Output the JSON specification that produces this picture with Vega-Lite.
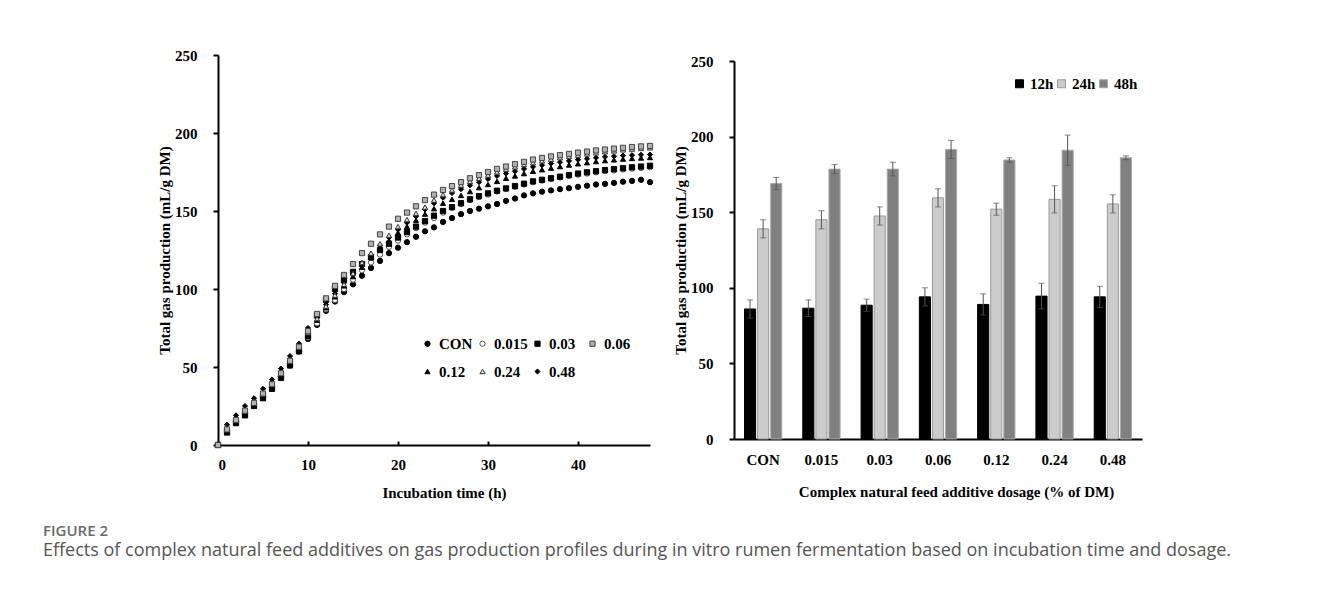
{
"$schema": "https://vega.github.io/schema/vega-lite/v6.json",
"padding": {"left": 43, "top": 48, "right": 0, "bottom": 0},
"spacing": 18,
"resolve": {"scale": {"fill": "independent", "stroke": "independent", "shape": "independent", "size": "independent"}, "legend": {"fill": "independent", "stroke": "independent", "shape": "independent", "size": "independent"}},
"config": {
 "font": "Liberation Serif",
 "view": {"stroke": null},
 "axis": {"labelFont": "Liberation Serif", "labelFontWeight": "bold", "labelFontSize": 15, "labelColor": "#000", "titleFont": "Liberation Serif", "titleFontWeight": "bold", "titleFontSize": 15, "titleColor": "#000", "domainColor": "#000", "domainWidth": 2, "tickColor": "#000", "tickWidth": 2, "grid": false},
 "legend": {"labelFont": "Liberation Serif", "labelFontWeight": "bold", "labelFontSize": 15, "labelColor": "#000", "padding": 0}
},
"title": {"text": "FIGURE 2", "subtitle": "Effects of complex natural feed additives on gas production profiles during in vitro rumen fermentation based on incubation time and dosage.", "orient": "bottom", "anchor": "start", "frame": "bounds", "font": "Open Sans", "fontSize": 15, "fontWeight": 600, "color": "#6b6b6b", "subtitleFont": "Open Sans", "subtitleFontSize": 18, "subtitleColor": "#555555", "subtitlePadding": 3, "offset": 24},
"hconcat": [
{
 "width": 96, "height": 10,
 "data": {"values": []},
 "mark": "point"
},
{
 "width": 432, "height": 390,
 "data": {"values": [
{"h":0,"s":"CON","v":0},{"h":1,"s":"CON","v":9},{"h":2,"s":"CON","v":15},{"h":3,"s":"CON","v":20},{"h":4,"s":"CON","v":25},{"h":5,"s":"CON","v":31},{"h":6,"s":"CON","v":37},{"h":7,"s":"CON","v":44},{"h":8,"s":"CON","v":51},{"h":9,"s":"CON","v":60},{"h":10,"s":"CON","v":68},{"h":11,"s":"CON","v":77},{"h":12,"s":"CON","v":86},{"h":13,"s":"CON","v":92},{"h":14,"s":"CON","v":98},{"h":15,"s":"CON","v":103},{"h":16,"s":"CON","v":108.5},{"h":17,"s":"CON","v":113.5},{"h":18,"s":"CON","v":118},{"h":19,"s":"CON","v":123},{"h":20,"s":"CON","v":126.5},{"h":21,"s":"CON","v":130},{"h":22,"s":"CON","v":133.5},{"h":23,"s":"CON","v":137},{"h":24,"s":"CON","v":139.5},{"h":25,"s":"CON","v":143},{"h":26,"s":"CON","v":145.5},{"h":27,"s":"CON","v":148},{"h":28,"s":"CON","v":150},{"h":29,"s":"CON","v":151.5},{"h":30,"s":"CON","v":153},{"h":31,"s":"CON","v":154.5},{"h":32,"s":"CON","v":156.5},{"h":33,"s":"CON","v":158},{"h":34,"s":"CON","v":160},{"h":35,"s":"CON","v":161.3},{"h":36,"s":"CON","v":162.4},{"h":37,"s":"CON","v":163.2},{"h":38,"s":"CON","v":164},{"h":39,"s":"CON","v":164.6},{"h":40,"s":"CON","v":165.5},{"h":41,"s":"CON","v":166.2},{"h":42,"s":"CON","v":167},{"h":43,"s":"CON","v":167.4},{"h":44,"s":"CON","v":168},{"h":45,"s":"CON","v":168.8},{"h":46,"s":"CON","v":169.3},{"h":47,"s":"CON","v":170},{"h":48,"s":"CON","v":168.5},
{"h":0,"s":"0.015","v":0},{"h":1,"s":"0.015","v":9},{"h":2,"s":"0.015","v":15},{"h":3,"s":"0.015","v":20},{"h":4,"s":"0.015","v":25},{"h":5,"s":"0.015","v":31},{"h":6,"s":"0.015","v":37},{"h":7,"s":"0.015","v":44},{"h":8,"s":"0.015","v":52},{"h":9,"s":"0.015","v":60},{"h":10,"s":"0.015","v":69},{"h":11,"s":"0.015","v":78},{"h":12,"s":"0.015","v":87},{"h":13,"s":"0.015","v":93},{"h":14,"s":"0.015","v":100},{"h":15,"s":"0.015","v":106},{"h":16,"s":"0.015","v":112},{"h":17,"s":"0.015","v":117},{"h":18,"s":"0.015","v":122},{"h":19,"s":"0.015","v":127},{"h":20,"s":"0.015","v":131},{"h":21,"s":"0.015","v":135},{"h":22,"s":"0.015","v":139},{"h":23,"s":"0.015","v":142.5},{"h":24,"s":"0.015","v":145.5},{"h":25,"s":"0.015","v":149},{"h":26,"s":"0.015","v":152},{"h":27,"s":"0.015","v":154.5},{"h":28,"s":"0.015","v":157},{"h":29,"s":"0.015","v":159},{"h":30,"s":"0.015","v":160.5},{"h":31,"s":"0.015","v":162.5},{"h":32,"s":"0.015","v":164},{"h":33,"s":"0.015","v":165.5},{"h":34,"s":"0.015","v":167},{"h":35,"s":"0.015","v":168.5},{"h":36,"s":"0.015","v":169.5},{"h":37,"s":"0.015","v":170.5},{"h":38,"s":"0.015","v":171.5},{"h":39,"s":"0.015","v":172.5},{"h":40,"s":"0.015","v":173.3},{"h":41,"s":"0.015","v":174},{"h":42,"s":"0.015","v":174.8},{"h":43,"s":"0.015","v":175.5},{"h":44,"s":"0.015","v":176},{"h":45,"s":"0.015","v":176.6},{"h":46,"s":"0.015","v":177.1},{"h":47,"s":"0.015","v":177.6},{"h":48,"s":"0.015","v":178},
{"h":0,"s":"0.03","v":0},{"h":1,"s":"0.03","v":8},{"h":2,"s":"0.03","v":14},{"h":3,"s":"0.03","v":19},{"h":4,"s":"0.03","v":25},{"h":5,"s":"0.03","v":30},{"h":6,"s":"0.03","v":36},{"h":7,"s":"0.03","v":43},{"h":8,"s":"0.03","v":51},{"h":9,"s":"0.03","v":60},{"h":10,"s":"0.03","v":70},{"h":11,"s":"0.03","v":83},{"h":12,"s":"0.03","v":93},{"h":13,"s":"0.03","v":100},{"h":14,"s":"0.03","v":106},{"h":15,"s":"0.03","v":111},{"h":16,"s":"0.03","v":116},{"h":17,"s":"0.03","v":120.5},{"h":18,"s":"0.03","v":125},{"h":19,"s":"0.03","v":129},{"h":20,"s":"0.03","v":133},{"h":21,"s":"0.03","v":136.5},{"h":22,"s":"0.03","v":140},{"h":23,"s":"0.03","v":143.5},{"h":24,"s":"0.03","v":147},{"h":25,"s":"0.03","v":150},{"h":26,"s":"0.03","v":152.5},{"h":27,"s":"0.03","v":155},{"h":28,"s":"0.03","v":157.5},{"h":29,"s":"0.03","v":159.5},{"h":30,"s":"0.03","v":161.3},{"h":31,"s":"0.03","v":163},{"h":32,"s":"0.03","v":164.5},{"h":33,"s":"0.03","v":166},{"h":34,"s":"0.03","v":167.5},{"h":35,"s":"0.03","v":169},{"h":36,"s":"0.03","v":170},{"h":37,"s":"0.03","v":171},{"h":38,"s":"0.03","v":172},{"h":39,"s":"0.03","v":173},{"h":40,"s":"0.03","v":174},{"h":41,"s":"0.03","v":174.8},{"h":42,"s":"0.03","v":175.5},{"h":43,"s":"0.03","v":176.2},{"h":44,"s":"0.03","v":176.8},{"h":45,"s":"0.03","v":177.4},{"h":46,"s":"0.03","v":178},{"h":47,"s":"0.03","v":178.5},{"h":48,"s":"0.03","v":179},
{"h":0,"s":"0.12","v":0},{"h":1,"s":"0.12","v":11},{"h":2,"s":"0.12","v":17},{"h":3,"s":"0.12","v":23},{"h":4,"s":"0.12","v":28},{"h":5,"s":"0.12","v":34},{"h":6,"s":"0.12","v":40},{"h":7,"s":"0.12","v":47},{"h":8,"s":"0.12","v":55},{"h":9,"s":"0.12","v":64},{"h":10,"s":"0.12","v":72},{"h":11,"s":"0.12","v":80},{"h":12,"s":"0.12","v":88},{"h":13,"s":"0.12","v":95},{"h":14,"s":"0.12","v":102},{"h":15,"s":"0.12","v":108},{"h":16,"s":"0.12","v":114},{"h":17,"s":"0.12","v":120},{"h":18,"s":"0.12","v":126},{"h":19,"s":"0.12","v":131},{"h":20,"s":"0.12","v":136},{"h":21,"s":"0.12","v":140},{"h":22,"s":"0.12","v":144},{"h":23,"s":"0.12","v":148},{"h":24,"s":"0.12","v":151.5},{"h":25,"s":"0.12","v":155},{"h":26,"s":"0.12","v":157.5},{"h":27,"s":"0.12","v":160},{"h":28,"s":"0.12","v":162.5},{"h":29,"s":"0.12","v":165},{"h":30,"s":"0.12","v":167},{"h":31,"s":"0.12","v":169},{"h":32,"s":"0.12","v":171},{"h":33,"s":"0.12","v":172.5},{"h":34,"s":"0.12","v":174},{"h":35,"s":"0.12","v":175.5},{"h":36,"s":"0.12","v":176.5},{"h":37,"s":"0.12","v":177.5},{"h":38,"s":"0.12","v":178.5},{"h":39,"s":"0.12","v":179.5},{"h":40,"s":"0.12","v":180.3},{"h":41,"s":"0.12","v":181},{"h":42,"s":"0.12","v":181.7},{"h":43,"s":"0.12","v":182.3},{"h":44,"s":"0.12","v":182.8},{"h":45,"s":"0.12","v":183.3},{"h":46,"s":"0.12","v":183.7},{"h":47,"s":"0.12","v":184},{"h":48,"s":"0.12","v":184.3},
{"h":0,"s":"0.48","v":0},{"h":1,"s":"0.48","v":13},{"h":2,"s":"0.48","v":19},{"h":3,"s":"0.48","v":25},{"h":4,"s":"0.48","v":30},{"h":5,"s":"0.48","v":36},{"h":6,"s":"0.48","v":42},{"h":7,"s":"0.48","v":49},{"h":8,"s":"0.48","v":57},{"h":9,"s":"0.48","v":65},{"h":10,"s":"0.48","v":75},{"h":11,"s":"0.48","v":83},{"h":12,"s":"0.48","v":90},{"h":13,"s":"0.48","v":97},{"h":14,"s":"0.48","v":104},{"h":15,"s":"0.48","v":110},{"h":16,"s":"0.48","v":116.5},{"h":17,"s":"0.48","v":122},{"h":18,"s":"0.48","v":128},{"h":19,"s":"0.48","v":133},{"h":20,"s":"0.48","v":138},{"h":21,"s":"0.48","v":142.5},{"h":22,"s":"0.48","v":146.5},{"h":23,"s":"0.48","v":151},{"h":24,"s":"0.48","v":155},{"h":25,"s":"0.48","v":158.5},{"h":26,"s":"0.48","v":161.5},{"h":27,"s":"0.48","v":164},{"h":28,"s":"0.48","v":166.5},{"h":29,"s":"0.48","v":168.5},{"h":30,"s":"0.48","v":170.5},{"h":31,"s":"0.48","v":172.5},{"h":32,"s":"0.48","v":174},{"h":33,"s":"0.48","v":175.5},{"h":34,"s":"0.48","v":177},{"h":35,"s":"0.48","v":178.3},{"h":36,"s":"0.48","v":179.4},{"h":37,"s":"0.48","v":180.4},{"h":38,"s":"0.48","v":181.3},{"h":39,"s":"0.48","v":182.1},{"h":40,"s":"0.48","v":182.9},{"h":41,"s":"0.48","v":183.5},{"h":42,"s":"0.48","v":184.1},{"h":43,"s":"0.48","v":184.7},{"h":44,"s":"0.48","v":185.1},{"h":45,"s":"0.48","v":185.5},{"h":46,"s":"0.48","v":185.8},{"h":47,"s":"0.48","v":186},{"h":48,"s":"0.48","v":186.2},
{"h":0,"s":"0.24","v":0},{"h":1,"s":"0.24","v":10},{"h":2,"s":"0.24","v":16},{"h":3,"s":"0.24","v":22},{"h":4,"s":"0.24","v":28},{"h":5,"s":"0.24","v":33},{"h":6,"s":"0.24","v":39},{"h":7,"s":"0.24","v":46},{"h":8,"s":"0.24","v":54},{"h":9,"s":"0.24","v":63},{"h":10,"s":"0.24","v":72},{"h":11,"s":"0.24","v":81},{"h":12,"s":"0.24","v":89},{"h":13,"s":"0.24","v":96},{"h":14,"s":"0.24","v":103},{"h":15,"s":"0.24","v":110},{"h":16,"s":"0.24","v":117},{"h":17,"s":"0.24","v":123},{"h":18,"s":"0.24","v":129},{"h":19,"s":"0.24","v":134.5},{"h":20,"s":"0.24","v":140},{"h":21,"s":"0.24","v":144.5},{"h":22,"s":"0.24","v":148.5},{"h":23,"s":"0.24","v":152.5},{"h":24,"s":"0.24","v":157},{"h":25,"s":"0.24","v":160.5},{"h":26,"s":"0.24","v":163.5},{"h":27,"s":"0.24","v":166.5},{"h":28,"s":"0.24","v":169},{"h":29,"s":"0.24","v":171},{"h":30,"s":"0.24","v":173},{"h":31,"s":"0.24","v":175},{"h":32,"s":"0.24","v":176.8},{"h":33,"s":"0.24","v":178.3},{"h":34,"s":"0.24","v":179.8},{"h":35,"s":"0.24","v":181},{"h":36,"s":"0.24","v":182.2},{"h":37,"s":"0.24","v":183.2},{"h":38,"s":"0.24","v":184.2},{"h":39,"s":"0.24","v":185},{"h":40,"s":"0.24","v":185.8},{"h":41,"s":"0.24","v":186.6},{"h":42,"s":"0.24","v":187.3},{"h":43,"s":"0.24","v":188},{"h":44,"s":"0.24","v":188.6},{"h":45,"s":"0.24","v":189.2},{"h":46,"s":"0.24","v":189.7},{"h":47,"s":"0.24","v":190.1},{"h":48,"s":"0.24","v":190.5},
{"h":0,"s":"0.06","v":0},{"h":1,"s":"0.06","v":10},{"h":2,"s":"0.06","v":16},{"h":3,"s":"0.06","v":22},{"h":4,"s":"0.06","v":27},{"h":5,"s":"0.06","v":33},{"h":6,"s":"0.06","v":39},{"h":7,"s":"0.06","v":46},{"h":8,"s":"0.06","v":54},{"h":9,"s":"0.06","v":63},{"h":10,"s":"0.06","v":73},{"h":11,"s":"0.06","v":84},{"h":12,"s":"0.06","v":94},{"h":13,"s":"0.06","v":102},{"h":14,"s":"0.06","v":109},{"h":15,"s":"0.06","v":116},{"h":16,"s":"0.06","v":123},{"h":17,"s":"0.06","v":129},{"h":18,"s":"0.06","v":135},{"h":19,"s":"0.06","v":140},{"h":20,"s":"0.06","v":145},{"h":21,"s":"0.06","v":149},{"h":22,"s":"0.06","v":153},{"h":23,"s":"0.06","v":157},{"h":24,"s":"0.06","v":160.5},{"h":25,"s":"0.06","v":163.5},{"h":26,"s":"0.06","v":166},{"h":27,"s":"0.06","v":168.5},{"h":28,"s":"0.06","v":171},{"h":29,"s":"0.06","v":173},{"h":30,"s":"0.06","v":175},{"h":31,"s":"0.06","v":177},{"h":32,"s":"0.06","v":178.5},{"h":33,"s":"0.06","v":180},{"h":34,"s":"0.06","v":181.5},{"h":35,"s":"0.06","v":183},{"h":36,"s":"0.06","v":184},{"h":37,"s":"0.06","v":185},{"h":38,"s":"0.06","v":185.8},{"h":39,"s":"0.06","v":186.6},{"h":40,"s":"0.06","v":187.4},{"h":41,"s":"0.06","v":188.1},{"h":42,"s":"0.06","v":188.8},{"h":43,"s":"0.06","v":189.4},{"h":44,"s":"0.06","v":190},{"h":45,"s":"0.06","v":190.5},{"h":46,"s":"0.06","v":191},{"h":47,"s":"0.06","v":191.4},{"h":48,"s":"0.06","v":191.7}
 ]},
 "mark": {"type": "point", "strokeWidth": 1, "opacity": 1},
 "encoding": {
  "x": {"field": "h", "type": "quantitative", "scale": {"domain": [0, 48], "nice": false}, "axis": {"title": "Incubation time (h)", "values": [0, 10, 20, 30, 40], "tickSize": -4, "labelPadding": 16, "titleX": 226, "titlePadding": 13}},
  "y": {"field": "v", "type": "quantitative", "scale": {"domain": [0, 250]}, "axis": {"title": "Total gas production (mL/g DM)", "values": [0, 50, 100, 150, 200, 250], "tickSize": 5, "labelPadding": 16, "titlePadding": 2}},
  "shape": {"field": "s", "type": "nominal", "scale": {"domain": ["CON", "0.015", "0.03", "0.06", "0.12", "0.24", "0.48"], "range": ["circle", "circle", "square", "square", "triangle-up", "triangle-up", "diamond"]}, "legend": {"title": null, "orient": "none", "legendX": 202, "legendY": 281, "direction": "horizontal", "columns": 4, "gridAlign": "all", "columnPadding": 2, "rowPadding": 12, "labelOffset": 4, "symbolStrokeWidth": 1}},
  "fill": {"field": "s", "type": "nominal", "scale": {"domain": ["CON", "0.015", "0.03", "0.06", "0.12", "0.24", "0.48"], "range": ["#000000", "#ffffff", "#000000", "#b0b0b0", "#000000", "#dddddd", "#000000"]}, "legend": {"title": null, "orient": "none", "legendX": 202, "legendY": 281, "direction": "horizontal", "columns": 4, "gridAlign": "all", "columnPadding": 2, "rowPadding": 12, "labelOffset": 4, "symbolStrokeWidth": 1}},
  "stroke": {"field": "s", "type": "nominal", "scale": {"domain": ["CON", "0.015", "0.03", "0.06", "0.12", "0.24", "0.48"], "range": ["#000000", "#555555", "#000000", "#444444", "#000000", "#333333", "#000000"]}, "legend": {"title": null, "orient": "none", "legendX": 202, "legendY": 281, "direction": "horizontal", "columns": 4, "gridAlign": "all", "columnPadding": 2, "rowPadding": 12, "labelOffset": 4, "symbolStrokeWidth": 1}},
  "size": {"field": "s", "type": "nominal", "scale": {"domain": ["CON", "0.015", "0.03", "0.06", "0.12", "0.24", "0.48"], "range": [28, 26, 28, 34, 30, 30, 14]}, "legend": {"title": null, "orient": "none", "legendX": 202, "legendY": 281, "direction": "horizontal", "columns": 4, "gridAlign": "all", "columnPadding": 2, "rowPadding": 12, "labelOffset": 4, "symbolStrokeWidth": 1}}
 }
},
{
 "spacing": -2,
 "vconcat": [
 {"width": 1, "height": 1, "data": {"values": []}, "mark": "point"},
 {
 "width": 408, "height": 378,
 "data": {"values": [
{"dose":"CON","time":"12h","v":86,"lo":80,"hi":92},{"dose":"CON","time":"24h","v":139,"lo":133,"hi":145},{"dose":"CON","time":"48h","v":169,"lo":165,"hi":173},
{"dose":"0.015","time":"12h","v":86.5,"lo":81,"hi":92},{"dose":"0.015","time":"24h","v":145,"lo":139,"hi":151},{"dose":"0.015","time":"48h","v":178.5,"lo":175.5,"hi":181.5},
{"dose":"0.03","time":"12h","v":88.5,"lo":84.5,"hi":92.5},{"dose":"0.03","time":"24h","v":147.5,"lo":141.5,"hi":153.5},{"dose":"0.03","time":"48h","v":178.5,"lo":174,"hi":183},
{"dose":"0.06","time":"12h","v":94,"lo":88,"hi":100},{"dose":"0.06","time":"24h","v":159.5,"lo":153.5,"hi":165.5},{"dose":"0.06","time":"48h","v":191.5,"lo":185.5,"hi":197.5},
{"dose":"0.12","time":"12h","v":89,"lo":82,"hi":96},{"dose":"0.12","time":"24h","v":152,"lo":148,"hi":156},{"dose":"0.12","time":"48h","v":184.5,"lo":183,"hi":186},
{"dose":"0.24","time":"12h","v":94.5,"lo":86,"hi":103},{"dose":"0.24","time":"24h","v":158.5,"lo":149.5,"hi":167.5},{"dose":"0.24","time":"48h","v":191,"lo":181,"hi":201},
{"dose":"0.48","time":"12h","v":94,"lo":87,"hi":101},{"dose":"0.48","time":"24h","v":155.5,"lo":149.5,"hi":161.5},{"dose":"0.48","time":"48h","v":186,"lo":184.7,"hi":187.3}
 ]},
 "encoding": {
  "x": {"field": "dose", "type": "nominal", "sort": ["CON", "0.015", "0.03", "0.06", "0.12", "0.24", "0.48"], "scale": {"paddingInner": 0.36, "paddingOuter": 0.18}, "axis": {"title": "Complex natural feed additive dosage (% of DM)", "labelAngle": 0, "tickSize": -4, "labelPadding": 17, "titleX": 222, "titlePadding": 17}},
  "xOffset": {"field": "time", "type": "nominal", "sort": ["12h", "24h", "48h"], "scale": {"paddingInner": 0.15}}
 },
 "layer": [
  {"mark": {"type": "bar", "strokeWidth": 1},
   "encoding": {
    "y": {"field": "v", "type": "quantitative", "scale": {"domain": [0, 250], "nice": false}, "title": "Total gas production (mL/g DM)", "axis": {"values": [0, 50, 100, 150, 200, 250], "tickSize": 5, "labelPadding": 16, "titlePadding": 2}},
    "fill": {"field": "time", "type": "nominal", "scale": {"domain": ["12h", "24h", "48h"], "range": ["#000000", "#cccccc", "#808080"]}, "legend": {"title": null, "orient": "none", "legendX": 278, "legendY": 21, "direction": "horizontal", "symbolType": "square", "symbolSize": 64, "labelOffset": 3, "columnPadding": 0, "symbolStrokeWidth": 1}},
    "stroke": {"field": "time", "type": "nominal", "scale": {"domain": ["12h", "24h", "48h"], "range": ["#000000", "#999999", "#aaaaaa"]}, "legend": {"title": null, "orient": "none", "legendX": 278, "legendY": 21, "direction": "horizontal", "symbolType": "square", "symbolSize": 64, "labelOffset": 3, "columnPadding": 0, "symbolStrokeWidth": 1}}
   }},
  {"mark": {"type": "rule", "color": "#555555", "strokeWidth": 1},
   "encoding": {"y": {"field": "lo", "type": "quantitative", "scale": {"domain": [0, 250], "nice": false}, "title": "Total gas production (mL/g DM)"}, "y2": {"field": "hi"}}},
  {"mark": {"type": "tick", "color": "#555555", "thickness": 1, "size": 6},
   "encoding": {"y": {"field": "hi", "type": "quantitative", "scale": {"domain": [0, 250], "nice": false}, "title": "Total gas production (mL/g DM)"}}},
  {"mark": {"type": "tick", "color": "#555555", "thickness": 1, "size": 6},
   "encoding": {"y": {"field": "lo", "type": "quantitative", "scale": {"domain": [0, 250], "nice": false}, "title": "Total gas production (mL/g DM)"}}}
 ]
 }
 ]
}
]
}
